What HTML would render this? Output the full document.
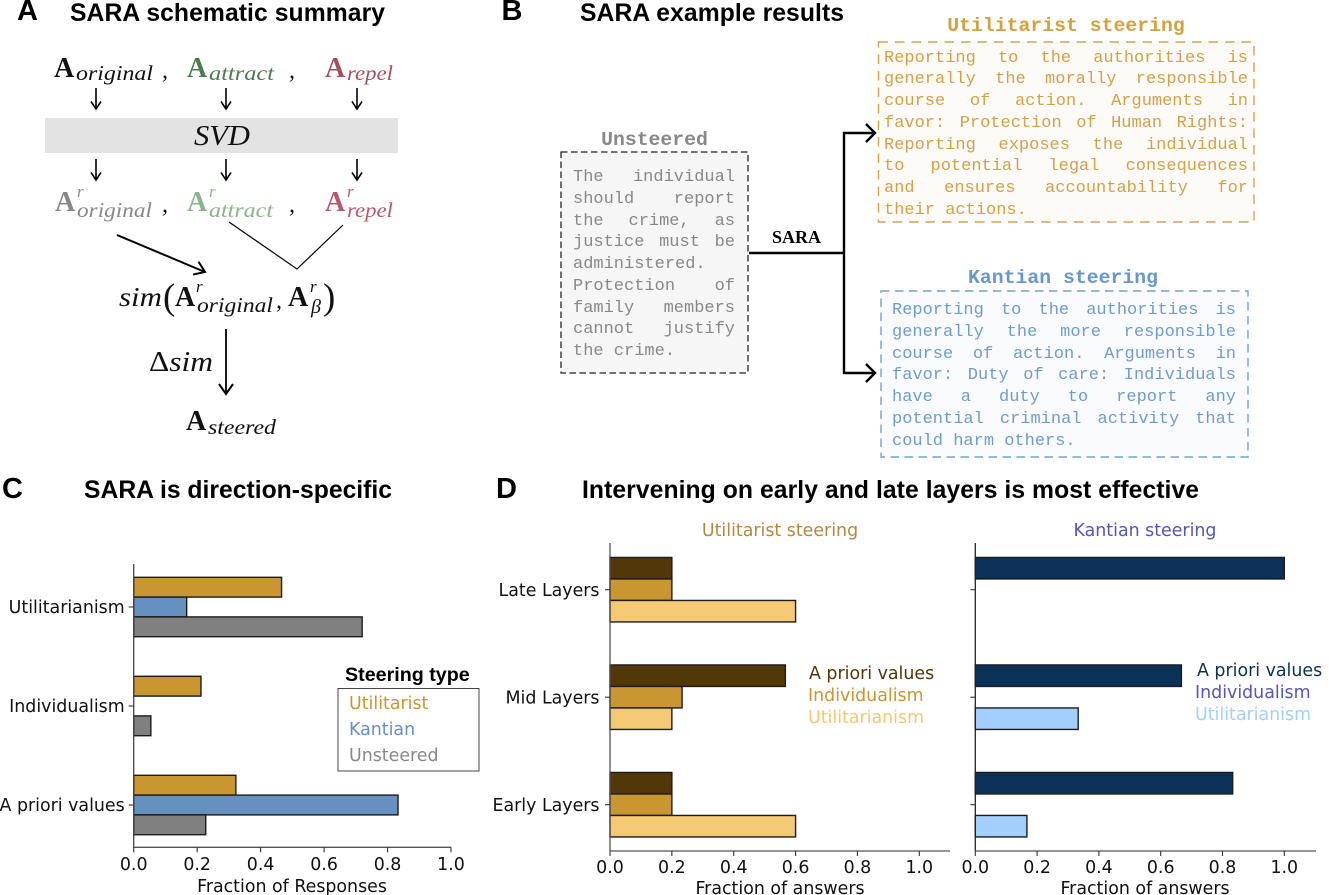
<!DOCTYPE html>
<html lang="en">
<head>
<meta charset="utf-8">
<title>SARA figure</title>
<style>
html,body{margin:0;padding:0;background:#fff;}
#page{position:relative;width:1329px;height:895px;overflow:hidden;background:#fff;}
svg{position:absolute;left:0;top:0;}
.head{font-family:"Liberation Sans",sans-serif;font-weight:700;fill:#000;}
.m{font-family:"Liberation Serif",serif;font-style:italic;}
.b{font-family:"Liberation Serif",serif;font-weight:700;font-size:28px;}
.dj{font-family:"DejaVu Sans",sans-serif;font-size:17.4px;}
.mono-b{font-family:"Liberation Mono",monospace;font-weight:700;font-size:19.8px;}
.tb{position:absolute;font-family:"Liberation Mono",monospace;font-size:17px;line-height:21.75px;}
.tb div{text-align:justify;text-align-last:justify;height:21.75px;white-space:normal;}
.tb div.l{text-align-last:left;}
</style>
</head>
<body>
<div id="page">
<svg id="fig" width="1329" height="895" viewBox="0 0 1329 895" xmlns="http://www.w3.org/2000/svg">
  <defs>
    <marker id="ah" viewBox="0 0 12 12" refX="10.5" refY="6" markerWidth="12" markerHeight="12" markerUnits="userSpaceOnUse" orient="auto">
      <path d="M3 1 L10.5 6 L3 11" fill="none" stroke="#000" stroke-width="1.6"/>
    </marker>
    <marker id="ah2" viewBox="0 0 16 16" refX="14" refY="8" markerWidth="16" markerHeight="16" markerUnits="userSpaceOnUse" orient="auto">
      <path d="M4 1 L14 8 L4 15" fill="none" stroke="#000" stroke-width="2"/>
    </marker>
  </defs>

  <!-- panel headings -->
  <text class="head" x="17" y="20" font-size="29">A</text>
  <text class="head" x="70" y="21" font-size="24.7" textLength="315">SARA schematic summary</text>
  <text class="head" x="501.5" y="20" font-size="29">B</text>
  <text class="head" x="580" y="21" font-size="24.7" textLength="264">SARA example results</text>
  <text class="head" x="2" y="498" font-size="29">C</text>
  <text class="head" x="84" y="498" font-size="24.7" textLength="308">SARA is direction-specific</text>
  <text class="head" x="496" y="498" font-size="29">D</text>
  <text class="head" x="582" y="498" font-size="24.7" textLength="617">Intervening on early and late layers is most effective</text>

  <!-- panel A schematic -->
  <g>
    <rect x="45" y="118" width="353" height="35" fill="#e3e3e3"/>
    <text class="m" x="222" y="145" font-size="28" text-anchor="middle" textLength="56" lengthAdjust="spacingAndGlyphs" fill="#111">SVD</text>

    <g>
      <text class="b" x="54" y="77" fill="#111">A</text>
      <text class="m" x="76" y="80" font-size="21" textLength="77" lengthAdjust="spacingAndGlyphs" fill="#111">original</text>
      <text class="m" x="162" y="78" font-size="24" fill="#111">,</text>
      <text class="b" x="187" y="77" fill="#4d7a50">A</text>
      <text class="m" x="209" y="80" font-size="21" textLength="65" lengthAdjust="spacingAndGlyphs" fill="#4d7a50">attract</text>
      <text class="m" x="289" y="78" font-size="24" fill="#111">,</text>
      <text class="b" x="325" y="77" fill="#a3505f">A</text>
      <text class="m" x="347" y="80" font-size="21" textLength="46" lengthAdjust="spacingAndGlyphs" fill="#a3505f">repel</text>
    </g>

    <g fill="none" stroke="#000" stroke-width="1.6">
      <path d="M96 88V109" marker-end="url(#ah)"/>
      <path d="M226 88V109" marker-end="url(#ah)"/>
      <path d="M357 88V109" marker-end="url(#ah)"/>
      <path d="M96 159V180" marker-end="url(#ah)"/>
      <path d="M226 159V180" marker-end="url(#ah)"/>
      <path d="M357 159V180" marker-end="url(#ah)"/>
    </g>

    <g>
      <text class="b" x="55" y="211" fill="#888">A</text>
      <text class="m" x="77" y="197" font-size="17" fill="#888">r</text>
      <text class="m" x="77" y="217" font-size="21" textLength="75" lengthAdjust="spacingAndGlyphs" fill="#888">original</text>
      <text class="m" x="162" y="212" font-size="24" fill="#111">,</text>
      <text class="b" x="187" y="211" fill="#8bb48b">A</text>
      <text class="m" x="209" y="197" font-size="17" fill="#8bb48b">r</text>
      <text class="m" x="209" y="217" font-size="21" textLength="64" lengthAdjust="spacingAndGlyphs" fill="#8bb48b">attract</text>
      <text class="m" x="289" y="212" font-size="24" fill="#111">,</text>
      <text class="b" x="325" y="211" fill="#b45a6b">A</text>
      <text class="m" x="347" y="197" font-size="17" fill="#b45a6b">r</text>
      <text class="m" x="347" y="217" font-size="21" textLength="46" lengthAdjust="spacingAndGlyphs" fill="#b45a6b">repel</text>
    </g>

    <path d="M117 235L205 272" fill="none" stroke="#000" stroke-width="2" marker-end="url(#ah2)"/>
    <path d="M229 222L297 269L343 225" fill="none" stroke="#000" stroke-width="1.2"/>

    <g fill="#111">
      <text class="m" x="119" y="306" font-size="27" textLength="43" lengthAdjust="spacingAndGlyphs">sim</text>
      <text x="163" y="309" font-family="Liberation Serif,serif" font-size="37" font-weight="400">(</text>
      <text class="b" x="175" y="306">A</text>
      <text class="m" x="196" y="292" font-size="17">r</text>
      <text class="m" x="197" y="312" font-size="21" textLength="76" lengthAdjust="spacingAndGlyphs">original</text>
      <text class="m" x="276" y="308" font-size="24">,</text>
      <text class="b" x="288" y="306">A</text>
      <text class="m" x="310" y="292" font-size="17">r</text>
      <text class="m" x="311" y="313" font-size="20">β</text>
      <text x="323" y="309" font-family="Liberation Serif,serif" font-size="37" font-weight="400">)</text>
    </g>

    <path d="M226 329V394" fill="none" stroke="#000" stroke-width="1.8" marker-end="url(#ah2)"/>
    <text x="149" y="371" font-family="Liberation Serif,serif" font-size="28" textLength="64" lengthAdjust="spacingAndGlyphs" fill="#111">Δ<tspan font-style="italic">sim</tspan></text>
    <text class="b" x="186" y="430" fill="#111">A</text>
    <text class="m" x="208" y="434" font-size="21" textLength="68" lengthAdjust="spacingAndGlyphs" fill="#111">steered</text>
  </g>

  <!-- panel B frames -->
  <g>
    <rect x="561" y="152" width="187" height="221" fill="#f6f6f6" stroke="#222" stroke-width="1.3" stroke-dasharray="6.5 3.5"/>
    <rect x="878.5" y="42" width="375.5" height="180" fill="#fdfbf8" stroke="#d4a350" stroke-width="1.4" stroke-dasharray="9.5 7"/>
    <rect x="881" y="291" width="367" height="166" fill="#fafbfe" stroke="#74a0cf" stroke-width="1.4" stroke-dasharray="8.5 5.5"/>
    <text class="mono-b" x="654.5" y="145" text-anchor="middle" fill="#888">Unsteered</text>
    <text class="mono-b" x="1066" y="31" text-anchor="middle" fill="#d4a040">Utilitarist steering</text>
    <text class="mono-b" x="1063" y="283" text-anchor="middle" fill="#6a97c9">Kantian steering</text>
    <text x="772" y="243" font-family="Liberation Serif,serif" font-weight="700" font-size="18" textLength="49" lengthAdjust="spacingAndGlyphs" fill="#000">SARA</text>
    <path d="M749 253H844M875 133H844V373H875" fill="none" stroke="#000" stroke-width="2.4"/>
    <path d="M866 124L875 133L866 142M866 364L875 373L866 382" fill="none" stroke="#000" stroke-width="2.4"/>
  </g>

  <g id="chart-c"></g>
  <g id="chart-d1"></g>
  <g id="chart-d2"></g>

  <!-- legend panel C -->
  <g>
    <text class="head" x="345" y="681" font-size="19.7">Steering type</text>
    <rect x="338" y="688.5" width="141" height="82.5" fill="#fff" stroke="#444" stroke-width="1"/>
    <text class="dj" x="349" y="709" fill="#c9962f">Utilitarist</text>
    <text class="dj" x="349" y="735" fill="#6590bf">Kantian</text>
    <text class="dj" x="349" y="761" fill="#888">Unsteered</text>
  </g>

  <!-- panel D labels -->
  <text class="dj" x="780" y="536" text-anchor="middle" fill="#b5893b">Utilitarist steering</text>
  <text class="dj" x="1145" y="536" text-anchor="middle" fill="#5555bb">Kantian steering</text>
  <g>
    <text class="dj" x="809" y="679" fill="#523809">A priori values</text>
    <text class="dj" x="808" y="701" fill="#c9962f">Individualism</text>
    <text class="dj" x="808" y="723" fill="#f5c874">Utilitarianism</text>
  </g>
  <g>
    <text class="dj" x="1197" y="676" fill="#0a3158">A priori values</text>
    <text class="dj" x="1195" y="698" fill="#5555bb">Individualism</text>
    <text class="dj" x="1195" y="720" fill="#a2cffe">Utilitarianism</text>
  </g>
</svg>

<div class="tb" style="left:573px;top:167px;width:162px;color:#888">
<div>The individual</div><div>should report</div><div>the crime, as</div><div>justice must be</div><div class="l">administered.</div><div>Protection of</div><div>family members</div><div>cannot justify</div><div class="l">the crime.</div>
</div>
<div class="tb" style="left:884px;top:47.6px;width:364px;color:#d4a04a">
<div>Reporting to the authorities is</div><div>generally the morally responsible</div><div>course of action. Arguments in</div><div>favor: Protection of Human Rights:</div><div>Reporting exposes the individual</div><div>to potential legal consequences</div><div>and ensures accountability for</div><div class="l">their actions.</div>
</div>
<div class="tb" style="left:892px;top:300px;width:344px;color:#6f9ccc">
<div>Reporting to the authorities is</div><div>generally the more responsible</div><div>course of action. Arguments in</div><div>favor: Duty of care: Individuals</div><div>have a duty to report any</div><div>potential criminal activity that</div><div class="l">could harm others.</div>
</div>
</div>

<script>
// Panel C data
var directionCategories = ['Utilitarianism', 'Individualism', 'A priori values'];
var directionUtilitarist = [0.466, 0.212, 0.322];
var directionKantian = [0.167, 0, 0.833];
var directionUnsteered = [0.72, 0.054, 0.227];
var directionTicks = ['0.0', '0.2', '0.4', '0.6', '0.8', '1.0'];

// Panel D data
var layerCategories = ['Late Layers', 'Mid Layers', 'Early Layers'];
var utilAPriori = [0.2, 0.567, 0.2];
var utilIndividualism = [0.2, 0.233, 0.2];
var utilUtilitarianism = [0.6, 0.2, 0.6];
var kantAPriori = [1.0, 0.667, 0.833];
var kantIndividualism = [0, 0, 0];
var kantUtilitarianism = [0, 0.333, 0.167];
var layerTicks = ['0.0', '0.2', '0.4', '0.6', '0.8', '1.0'];

var NS = 'http://www.w3.org/2000/svg';

function node(parent, tag, attrs, text) {
  var el = document.createElementNS(NS, tag);
  for (var k in attrs) { el.setAttribute(k, attrs[k]); }
  if (text !== undefined) { el.textContent = text; }
  parent.appendChild(el);
  return el;
}

function drawBarChart(id, cfg) {
  var g = document.getElementById(id);
  function xAxis(v) { return cfg.x0 + v * cfg.unit; }
  function yAxis(catIndex) { return cfg.yFirst + catIndex * cfg.yStep; }
  var el;

  // bars
  cfg.series.forEach(function (s) {
    s.values.forEach(function (v, i) {
      var top = yAxis(i) - 1.5 * cfg.barH + s.slot * cfg.barH;
      el = node(g, 'rect', {
        x: xAxis(0), y: top, width: xAxis(v) - xAxis(0), height: cfg.barH,
        fill: s.color, stroke: '#1c1c1c', 'stroke-width': 1.4
      });
      
      
    });
  });

  // spines
  el = node(g, 'line', { x1: cfg.x0, x2: cfg.x0, y1: cfg.yTop, y2: cfg.yBottom, stroke: cfg.spine, 'stroke-width': 1.3 });
  
  
  el = node(g, 'line', { x1: cfg.x0 - 0.6, x2: cfg.xEnd, y1: cfg.yBottom, y2: cfg.yBottom, stroke: '#555', 'stroke-width': 1.3 });
  
  

  // y ticks and labels
  cfg.categories.forEach(function (label, i) {
    var y = yAxis(i);
    el = node(g, 'line', { x1: cfg.x0 - 5, x2: cfg.x0, y1: y, y2: y, stroke: '#333', 'stroke-width': 1.1 });
    
    
    if (cfg.showYLabels) {
      el = node(g, 'text', { x: cfg.x0 - cfg.labelGap, y: y + 6.2, 'text-anchor': 'end', 'class': 'dj', fill: '#111' }, label);
      
      
    }
  });

  // x ticks and labels
  cfg.ticks.forEach(function (label) {
    var x = xAxis(parseFloat(label));
    el = node(g, 'line', { x1: x, x2: x, y1: cfg.yBottom, y2: cfg.yBottom + 5, stroke: '#333', 'stroke-width': 1.1 });
    
    
    el = node(g, 'text', { x: x, y: cfg.tickBase, 'text-anchor': 'middle', 'class': 'dj', fill: '#111' }, label);
    
    
  });

  // axis title
  el = node(g, 'text', { x: cfg.titleX, y: cfg.titleY, 'text-anchor': 'middle', 'class': 'dj', fill: '#111' }, cfg.xTitle);
  
  
}

drawBarChart('chart-c', {
  x0: 133.7, unit: 317.3, xEnd: 451, yTop: 564, yBottom: 847.3,
  yFirst: 607, yStep: 99, barH: 19.8, spine: '#444', showYLabels: true, labelGap: 9,
  tickBase: 870, titleX: 292, titleY: 892, xTitle: 'Fraction of Responses',
  categories: directionCategories, ticks: directionTicks,
  series: [
    { key: 'utilitarist', slot: 0, color: '#c9962f', values: directionUtilitarist },
    { key: 'kantian', slot: 1, color: '#6590bf', values: directionKantian },
    { key: 'unsteered', slot: 2, color: '#808080', values: directionUnsteered }
  ]
});

drawBarChart('chart-d1', {
  x0: 610, unit: 309.3, xEnd: 950, yTop: 543, yBottom: 851,
  yFirst: 589.7, yStep: 107.5, barH: 21.5, spine: '#555', showYLabels: true, labelGap: 10.5,
  tickBase: 873, titleX: 780, titleY: 894, xTitle: 'Fraction of answers',
  categories: layerCategories, ticks: layerTicks,
  series: [
    { key: 'a-priori', slot: 0, color: '#523809', values: utilAPriori },
    { key: 'individualism', slot: 1, color: '#c9962f', values: utilIndividualism },
    { key: 'utilitarianism', slot: 2, color: '#f5c874', values: utilUtilitarianism }
  ]
});

drawBarChart('chart-d2', {
  x0: 975.3, unit: 309, xEnd: 1316, yTop: 543, yBottom: 851,
  yFirst: 589.7, yStep: 107.5, barH: 21.5, spine: '#222', showYLabels: false, labelGap: 10.5,
  tickBase: 873, titleX: 1145, titleY: 894, xTitle: 'Fraction of answers',
  categories: layerCategories, ticks: layerTicks,
  series: [
    { key: 'a-priori', slot: 0, color: '#0a3158', values: kantAPriori },
    { key: 'individualism', slot: 1, color: '#5555bb', values: kantIndividualism },
    { key: 'utilitarianism', slot: 2, color: '#a2cffe', values: kantUtilitarianism }
  ]
});
</script>
</body>
</html>
